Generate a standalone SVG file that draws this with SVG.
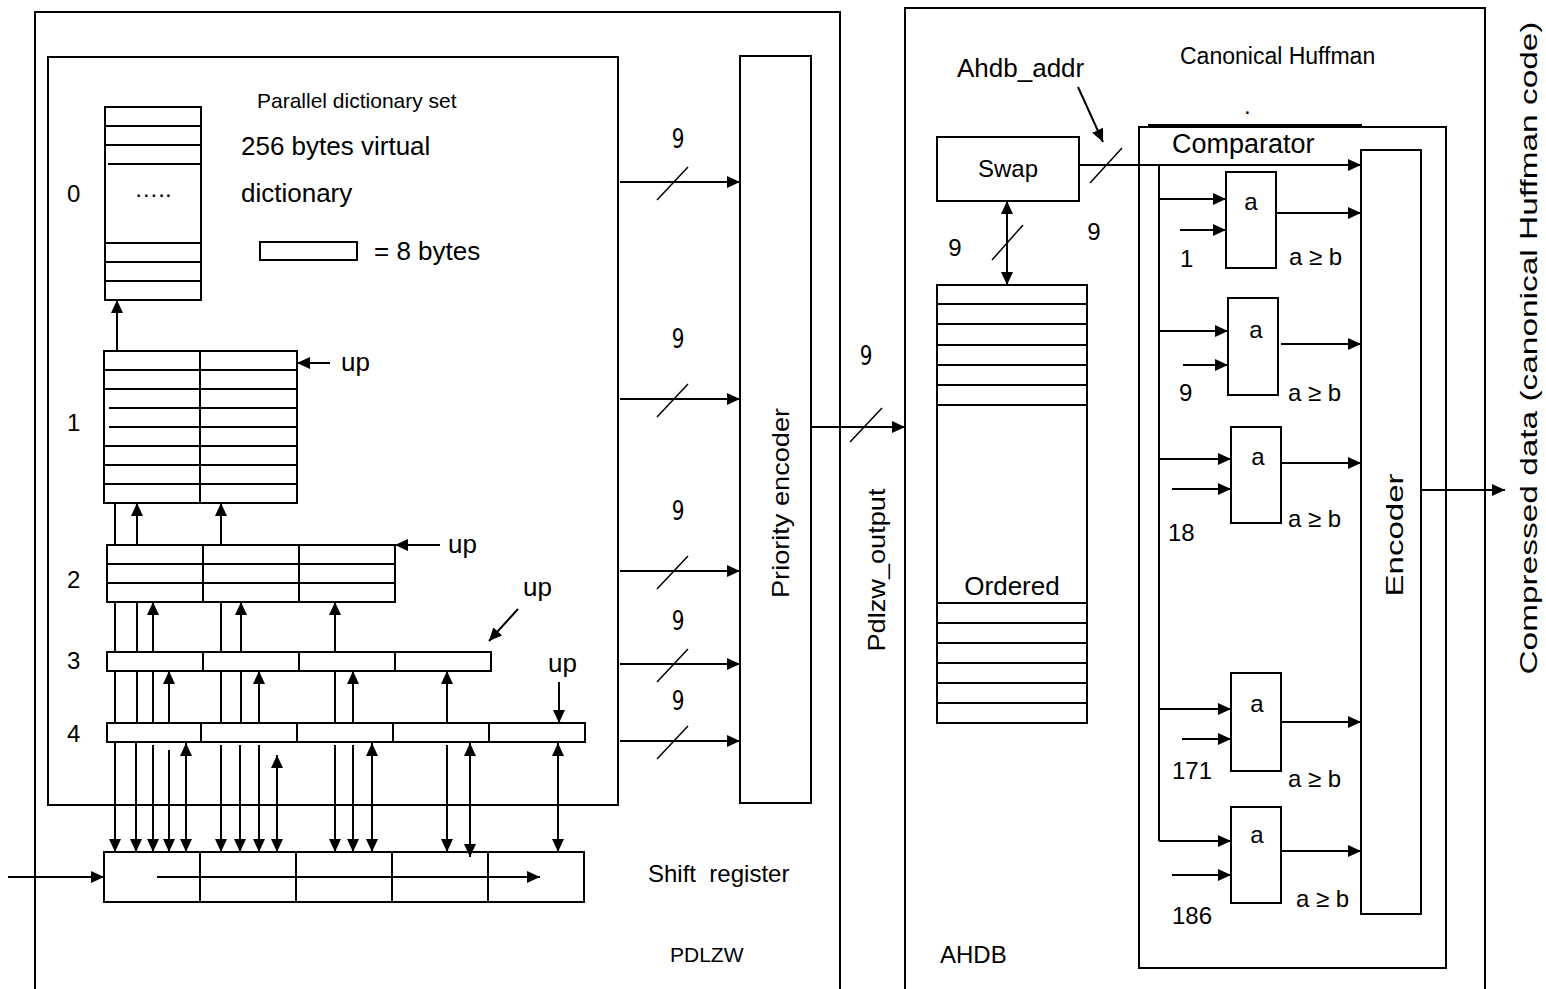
<svg xmlns="http://www.w3.org/2000/svg" width="1546" height="989" viewBox="0 0 1546 989">
<style>
.b{fill:none;stroke:#000;stroke-width:2}
.l{stroke:#000;stroke-width:2;fill:none}
.a{stroke:#000;stroke-width:2;fill:none;marker-end:url(#ah)}
.d{stroke:#000;stroke-width:2;fill:none;marker-end:url(#ah);marker-start:url(#ah)}
.s{stroke:#000;stroke-width:1.5}
text{font-family:"Liberation Sans",Arial,sans-serif;font-size:21px;fill:#000}
.n{font-family:"DejaVu Sans",Verdana,sans-serif;font-size:20px;text-anchor:middle}
.m{text-anchor:middle}
.L{font-size:26px}
.M{font-size:24px}
.p{white-space:pre}
</style>
<defs>
<marker id="ah" markerUnits="userSpaceOnUse" markerWidth="14" markerHeight="12" refX="13" refY="6" orient="auto-start-reverse">
<path d="M0,0 L13,6 L0,12 z" fill="#000"/>
</marker>
</defs>
<rect width="1546" height="989" fill="#fff"/>

<g id="pdlzw">
<path class="b" d="M35,995 V12 H840 V995"/>
<text x="670" y="962">PDLZW</text>
</g>
<g id="ahdb">
<path class="b" d="M905,995 V8 H1485 V995"/>
<text class="M" x="940" y="963">AHDB</text>
</g>

<g id="dictset">
<rect class="b" x="48" y="57" width="570" height="748"/>
<text x="257" y="108">Parallel dictionary set</text>
<text class="L" x="241" y="155">256 bytes virtual</text>
<text class="L" x="241" y="202">dictionary</text>
<rect class="b" x="260" y="242" width="97" height="18"/>
<text class="L" x="374" y="260">= 8 bytes</text>
</g>

<g id="dict0">
<rect class="b" x="105" y="107" width="96" height="193"/>
<path class="l" d="M105,126H201M105,145H201M108,164H201M105,243H201M105,262H201M105,281H201"/>
<text class="m M" x="153" y="197">…..</text>
<text class="M" x="67" y="202">0</text>
</g>

<g id="dict1">
<rect class="b" x="104" y="351" width="193" height="152"/>
<path class="l" d="M200,351V503M104,370H297M104,389H297M109,408H297M109,427H297M104,446H297M104,465H297M104,484H297"/>
<text class="M" x="67" y="431">1</text>
<text class="L" x="341" y="371">up</text>
</g>

<g id="dict2">
<rect class="b" x="107" y="545" width="288" height="57"/>
<path class="l" d="M203,545V602M299,545V602M107,564H395M107,583H395"/>
<text class="M" x="67" y="588">2</text>
<text class="L" x="448" y="553">up</text>
</g>

<g id="dict3">
<rect class="b" x="107" y="652" width="384" height="19"/>
<path class="l" d="M203,652V671M299,652V671M395,652V671"/>
<text class="M" x="67" y="669">3</text>
<text class="L" x="523" y="596">up</text>
</g>

<g id="dict4">
<rect class="b" x="107" y="723" width="478" height="19"/>
<path class="l" d="M201,723V742M297,723V742M393,723V742M489,723V742"/>
<text class="M" x="67" y="742">4</text>
<text class="L" x="548" y="672">up</text>
</g>

<g id="shiftreg">
<rect class="b" x="104" y="852" width="480" height="50"/>
<path class="l" d="M200,852V902M296,852V902M392,852V902M488,852V902"/>
<text class="M p" x="648" y="882">Shift  register</text>
</g>

<g id="prioenc">
<rect class="b" x="740" y="56" width="71" height="747"/>
<text class="m M" transform="translate(789,503) rotate(-90)" textLength="190" lengthAdjust="spacingAndGlyphs">Priority encoder</text>
</g>

<g id="swap">
<rect class="b" x="937" y="137" width="142" height="64"/>
<text class="m M" x="1008" y="177">Swap</text>
</g>

<g id="ordered">
<rect class="b" x="937" y="285" width="150" height="438"/>
<path class="l" d="M937,304H1087M937,324H1087M937,345H1087M937,365H1087M937,385H1087M937,405H1087M937,603H1087M937,623H1087M937,643H1087M937,663H1087M937,683H1087M937,703H1087"/>
<text class="m L" x="1012" y="595">Ordered</text>
</g>

<g id="comparator">
<rect class="b" x="1139" y="127" width="307" height="841"/>
<path class="l" d="M1148,125H1362"/>
<text style="font-size:27px" x="1172" y="153">Comparator</text>
<text style="font-size:23px" x="1180" y="64">Canonical Huffman</text>
<text class="M" x="1244" y="114">.</text>
</g>

<g id="encoder">
<rect class="b" x="1361" y="150" width="60" height="764"/>
<text class="m M" transform="translate(1403,535) rotate(-90)" textLength="123" lengthAdjust="spacingAndGlyphs">Encoder</text>
</g>

<g id="cmp1">
<rect class="b" x="1226" y="172" width="50" height="96"/>
<text class="m M" x="1251" y="210">a</text>
<text class="M" x="1180" y="267">1</text>
<text class="M" x="1289" y="265">a ≥ b</text>
</g>
<g id="cmp2">
<rect class="b" x="1228" y="298" width="50" height="97"/>
<text class="m M" x="1256" y="338">a</text>
<text class="M" x="1179" y="401">9</text>
<text class="M" x="1288" y="401">a ≥ b</text>
</g>
<g id="cmp3">
<rect class="b" x="1231" y="427" width="50" height="96"/>
<text class="m M" x="1258" y="465">a</text>
<text class="M" x="1168" y="541">18</text>
<text class="M" x="1288" y="527">a ≥ b</text>
</g>
<g id="cmp4">
<rect class="b" x="1231" y="673" width="50" height="98"/>
<text class="m M" x="1257" y="712">a</text>
<text class="M" x="1172" y="779">171</text>
<text class="M" x="1288" y="787">a ≥ b</text>
</g>
<g id="cmp5">
<rect class="b" x="1231" y="807" width="50" height="96"/>
<text class="m M" x="1257" y="843">a</text>
<text class="M" x="1172" y="924">186</text>
<text class="M" x="1296" y="907">a ≥ b</text>
</g>

<g id="labels">
<text class="L" x="957" y="77">Ahdb_addr</text>
<text class="m M" transform="translate(885,570) rotate(-90)" textLength="163" lengthAdjust="spacingAndGlyphs">Pdlzw_output</text>
<text class="m M" transform="translate(1537,348) rotate(-90)" textLength="653" lengthAdjust="spacingAndGlyphs">Compressed data (canonical Huffman code)</text>
<text class="n" transform="translate(678,148) scale(1,1.3)">9</text>
<text class="n" transform="translate(678,348) scale(1,1.3)">9</text>
<text class="n" transform="translate(678,520) scale(1,1.3)">9</text>
<text class="n" transform="translate(678,630) scale(1,1.3)">9</text>
<text class="n" transform="translate(678,710) scale(1,1.3)">9</text>
<text class="n" transform="translate(866,365) scale(1,1.3)">9</text>
<text class="m M" x="1094" y="240">9</text>
<text class="m M" x="955" y="256">9</text>
</g>

<g id="connectors">
<path class="a" d="M117,350V300"/>
<path class="a" d="M330,363H297"/>
<path class="l" d="M115,503V545"/>
<path class="a" d="M137,545V503"/>
<path class="a" d="M221,545V503"/>
<path class="a" d="M440,545H395"/>
<path class="l" d="M115,602V652M137,602V652M221,602V652"/>
<path class="a" d="M153,652V602"/>
<path class="a" d="M241,652V602"/>
<path class="a" d="M335,652V602"/>
<path class="a" d="M518,609L489,641"/>
<path class="l" d="M115,671V723M137,671V723M153,671V723M221,671V723M241,671V723M335,671V723"/>
<path class="a" d="M169,723V671"/>
<path class="a" d="M259,723V671"/>
<path class="a" d="M353,723V671"/>
<path class="a" d="M447,723V671"/>
<path class="a" d="M559,682V723"/>
<path class="a" d="M115,742V852"/>
<path class="a" d="M136,742V852"/>
<path class="a" d="M153,745V852"/>
<path class="a" d="M169,750V852"/>
<path class="d" d="M186,743V852"/>
<path class="a" d="M221,745V852"/>
<path class="a" d="M240,745V852"/>
<path class="a" d="M259,745V852"/>
<path class="d" d="M277,755V852"/>
<path class="a" d="M335,745V852"/>
<path class="a" d="M353,745V852"/>
<path class="d" d="M372,743V852"/>
<path class="a" d="M447,745V852"/>
<path class="d" d="M470,743V857"/>
<path class="d" d="M558,743V852"/>
<path class="a" d="M8,877H104"/>
<path class="a" d="M157,877H540"/>
<path class="a" d="M620,182H740"/>
<path class="a" d="M620,399H740"/>
<path class="a" d="M620,571H740"/>
<path class="a" d="M620,664H740"/>
<path class="a" d="M620,741H740"/>
<path class="s" d="M657,200L688,167M657,417L688,384M657,589L688,556M657,682L688,649M657,759L688,726"/>
<path class="a" d="M811,427H905"/>
<path class="s" d="M850,442L882,408"/>
<path class="a" d="M1078,87L1103,142"/>
<path class="a" d="M1079,165H1361"/>
<path class="s" d="M1090,183L1122,148"/>
<path class="d" d="M1007,201V285"/>
<path class="s" d="M992,260L1023,225"/>
<path class="l" d="M1159,165V841"/>
<path class="a" d="M1159,199H1226"/>
<path class="a" d="M1180,230H1226"/>
<path class="a" d="M1276,213H1361"/>
<path class="a" d="M1159,331H1228"/>
<path class="a" d="M1183,365H1228"/>
<path class="a" d="M1281,344H1361"/>
<path class="a" d="M1159,459H1231"/>
<path class="a" d="M1172,489H1231"/>
<path class="a" d="M1281,463H1361"/>
<path class="a" d="M1159,709H1231"/>
<path class="a" d="M1182,739H1231"/>
<path class="a" d="M1281,722H1361"/>
<path class="a" d="M1159,841H1231"/>
<path class="a" d="M1172,875H1231"/>
<path class="a" d="M1281,851H1361"/>
<path class="a" d="M1421,490H1505"/>
</g>
</svg>
